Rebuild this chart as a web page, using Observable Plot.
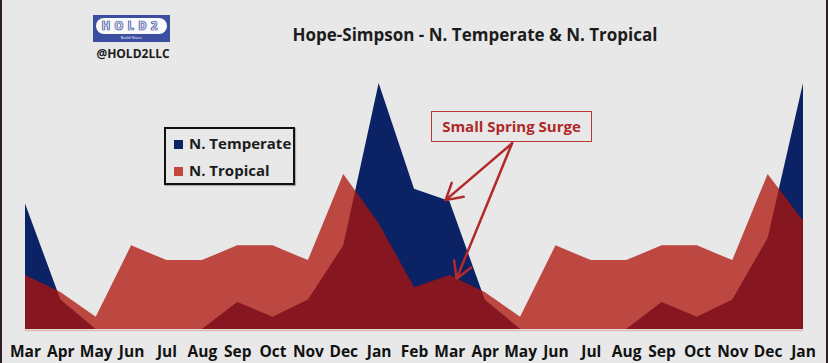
<!DOCTYPE html>
<html><head><meta charset="utf-8">
<script src="https://cdn.jsdelivr.net/npm/d3@7"></script>
<script src="https://cdn.jsdelivr.net/npm/@observablehq/plot@0.6"></script>
<style>
html,body{margin:0;padding:0;background:#e8e8e8;}
#wrap{position:relative;width:828px;height:363px;overflow:hidden;background:#e8e8e8;font-family:"Open Sans",sans-serif;}
#chart{position:absolute;left:0;top:0;}
.abs{position:absolute;}
#title{left:0;width:950px;top:23px;text-align:center;font-weight:700;font-size:17px;color:#1c1c1c;white-space:nowrap;}
#logo{left:93px;top:15px;width:77px;height:27px;background:#3b4ea0;}
#pill{left:3px;top:3px;width:71px;height:16px;background:#fbfbfd;border-radius:8px;text-align:center;font-weight:800;font-size:11.5px;line-height:16px;letter-spacing:4px;color:#d7daea;-webkit-text-stroke:0.7px #3b4ea0;}
#tiny{left:0;width:77px;top:20px;text-align:center;font-size:4px;color:#fff;}
#handle{left:73px;width:120px;top:45px;text-align:center;font-weight:700;font-size:12px;color:#1c1c1c;}
#legend{left:164px;top:127px;width:127px;height:54px;border:2px solid #111;box-shadow:1px 1px 1px rgba(0,0,0,.25);}
.li{position:absolute;left:8px;font-weight:700;font-size:15px;color:#1c1c1c;white-space:nowrap;line-height:20px;}
.sw{display:inline-block;width:9px;height:9px;margin-right:6px;vertical-align:0px;}
#note{left:431px;top:111px;width:159px;height:29px;border:1.5px solid #b8393a;text-align:center;font-weight:700;font-size:15px;line-height:29px;color:#b0282a;white-space:nowrap;}
.edge{position:absolute;top:0;width:2px;height:363px;background:#2e2020;}
</style></head>
<body><div id="wrap">
<div id="chart"></div>
<div id="title" class="abs">Hope-Simpson - N. Temperate &amp; N. Tropical</div>
<div id="logo" class="abs"><div id="pill" class="abs">HOLD2</div><div id="tiny" class="abs">Build Share</div></div>
<div id="handle" class="abs">@HOLD2LLC</div>
<div id="legend" class="abs">
  <div class="li" style="top:4px"><span class="sw" style="background:#0b2264"></span>N. Temperate</div>
  <div class="li" style="top:31px"><span class="sw" style="background:#c4463f"></span>N. Tropical</div>
</div>
<div id="note" class="abs">Small Spring Surge</div>
<div class="edge" style="left:0"></div>
<div class="edge" style="left:826px"></div>
</div>
<script>
const months = ["Mar","Apr","May","Jun","Jul","Aug","Sep","Oct","Nov","Dec","Jan","Feb","Mar","Apr","May","Jun","Jul","Aug","Sep","Oct","Nov","Dec","Jan"];
const temperate = [51,12,0,0,0,0,11,5,12,34,100,57,52,12,0,0,0,0,11,5,12,37,100];
const tropical  = [22,15,5,34,28,28,34,34,28,63,43,17,22,15,5,34,28,28,34,34,28,63,44];

const data = months.map((m, i) => ({i, month: m, temperate: temperate[i], tropical: tropical[i]}));

function along(arr, t) {
  const a = Math.floor(t), b = Math.ceil(t);
  return arr[a] + (arr[b] - arr[a]) * (t - a);
}
// annotation: "Small Spring Surge" pointing at the March bump of the second season
const noteAnchor = {x: 13.76, y: 75.7};
const arrows = [
  {x1: noteAnchor.x, y1: noteAnchor.y, x2: 11.88, y2: along(temperate, 11.88)},
  {x1: noteAnchor.x, y1: noteAnchor.y, x2: 12.19, y2: along(tropical, 12.19)}
];

const plot = Plot.plot({
  width: 828, height: 363,
  marginTop: 83, marginBottom: 34, marginLeft: 25, marginRight: 25,
  x: {domain: [0, 22]},
  y: {domain: [0, 100], axis: null},
  style: {background: "transparent", fontFamily: "Open Sans", color: "#111", overflow: "visible"},
  marks: [
    Plot.areaY(data, {x: "i", y: "temperate", fill: "#0b2264"}),
    Plot.areaY(data, {x: "i", y: "tropical", fill: "rgb(174,18,10)", fillOpacity: 0.755}),
    Plot.ruleY([0], {stroke: "#e2b9b9", strokeWidth: 1.5, dy: 1}),
    Plot.axisX({ticks: d3.range(months.length), tickFormat: i => months[i], tickSize: 0, tickPadding: 16,
      fontSize: 15.5, fontWeight: 700, fill: "#111", label: null}),
    Plot.arrow(arrows, {x1: "x1", y1: "y1", x2: "x2", y2: "y2", stroke: "#b42a2a", strokeWidth: 2.5, headLength: 11, bend: 0})
  ]
});
document.getElementById("chart").appendChild(plot);
</script>
</body></html>
